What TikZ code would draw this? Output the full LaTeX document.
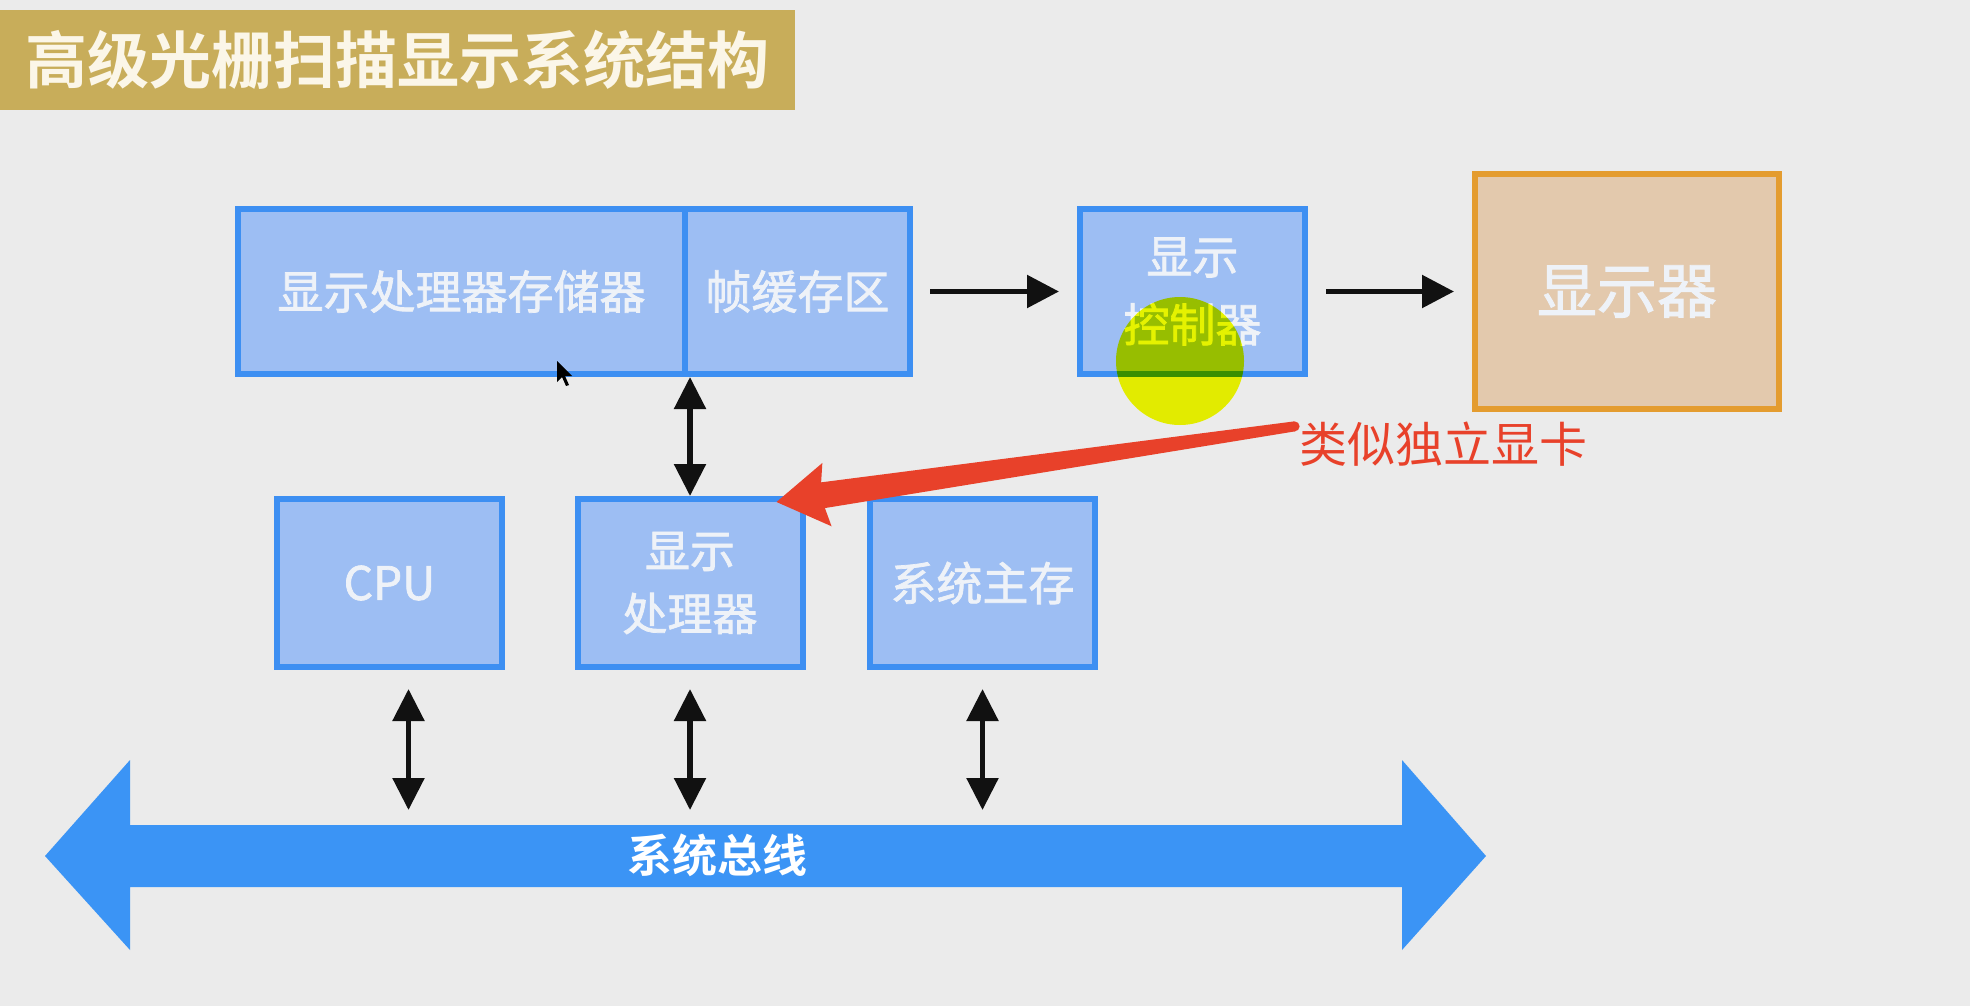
\documentclass[tikz,border=0pt]{standalone}
\usepackage{fontspec}
\usepackage{xcolor}
\usepackage{tikz}
\usetikzlibrary{arrows.meta,positioning,calc}

\newfontfamily\cjk{Noto Sans CJK SC}[BoldFont={Noto Sans CJK SC Bold}]
\newfontfamily\cjkmid{Noto Sans CJK SC}[FakeBold=1.6]

\definecolor{bg}{HTML}{EBEBEB}
\definecolor{banner}{HTML}{C8AD5A}
\definecolor{titletext}{HTML}{FBF6E8}
\definecolor{boxfill}{HTML}{9DBEF3}
\definecolor{boxline}{HTML}{3D8FF2}
\definecolor{boxtext}{HTML}{EEF2F8}
\definecolor{monfill}{HTML}{E3C9AD}
\definecolor{monline}{HTML}{E49C2F}
\definecolor{busblue}{HTML}{3B94F5}
\definecolor{notered}{HTML}{E8412A}
\definecolor{hlyellow}{HTML}{F6FF00}
\definecolor{arrowblack}{HTML}{111111}

\begin{document}
\begin{tikzpicture}[x=0.5pt, y=-0.5pt,
  box/.style={rectangle, draw=boxline, fill=boxfill, line width=3pt, inner sep=0pt, minimum height=82.5pt, align=center, text=boxtext, font=\cjkmid\fontsize{23}{34}\selectfont},
  unitbox/.style={box, minimum width=112.5pt, minimum height=84pt},
  link/.style={{Triangle[length=16pt,width=15.5pt]}-{Triangle[length=16pt,width=15.5pt]}, line width=2.75pt, draw=arrowblack},
  flow/.style={-{Triangle[length=16pt,width=16pt]}, line width=2.75pt, draw=arrowblack}]

  % Background and title banner
  \fill[bg] (0,0) rectangle (1970,1006);
  \node[fill=banner, minimum width=397.5pt, minimum height=50pt, inner sep=0pt, text=titletext, font=\cjk\bfseries\fontsize{31}{36}\selectfont] (title) at (397.5,60) {高级光栅扫描显示系统结构};

  % Top row: memory, frame buffer, controller, monitor
  \node[box, minimum width=223.5pt] (dpmem) at (461.5,291.5) {显示处理器存储器};
  \node[box, minimum width=112.5pt] (fbuf) at (797.5,291.5) {帧缓存区};
  \node[box, minimum width=112.5pt] (dctrl) at (1192.5,291.5) {显示\\控制器};
  \node[box, draw=monline, fill=monfill, minimum width=152pt, minimum height=117.5pt, font=\cjkmid\fontsize{30}{36}\selectfont] (monitor) at (1627,291.5) {\raisebox{-2pt}{显示器}};

  % Bottom row: CPU, display processor, main memory
  \node[unitbox] (cpu) at (389.5,583) {CPU};
  \node[unitbox, font=\cjkmid\fontsize{22.5}{31.5}\selectfont] (dproc) at (690,583) {显示\\处理器};
  \node[unitbox] (mem) at (982.5,583) {系统主存};

  % System bus
  \fill[busblue] (45,856) -- (130,760) -- (130,825) -- (1402,825) -- (1402,760) -- (1486,856)
    -- (1402,950) -- (1402,887) -- (130,887) -- (130,950) -- cycle;
  \node[text=white, font=\cjk\bfseries\fontsize{22.5}{27}\selectfont] (bus) at (717,855) {系统总线};
  \coordinate (bustop) at (717,825);

  % Arrows
  \draw[flow, shorten <=8.5pt, shorten >=9pt] (fbuf) -- (dctrl);
  \draw[flow, shorten <=9pt, shorten >=9pt] (dctrl) -- (monitor);
  \draw[link] (dproc.north |- fbuf.south) -- (dproc.north);
  \foreach \blk/\dx in {cpu/9.5pt, dproc/0pt, mem/0pt} {
    \coordinate (\blk-port) at ([xshift=\dx]\blk.south);
    \draw[link, shorten <=9.5pt, shorten >=7.5pt] (\blk-port) -- (\blk-port |- bustop);
  }

  % Pointer highlight and cursor
  \begin{scope}[blend mode=multiply]
    \fill[hlyellow] (1180,361) circle (32pt);
  \end{scope}
  \fill[black] (557,361) -- (557,382) -- (562,377) -- (566,386) -- (569,385) -- (565,376) -- (572,376) -- cycle;

  % Annotation
  \node[inner sep=0pt, text=notered, font=\cjk\fontsize{24}{28}\selectfont] (note) at (1443,444) {类似独立显卡};
  \coordinate (tip) at ([shift={(-29,6)}]dproc.north east);
  \coordinate (tail) at ([shift={(-4,5)}]note.north west);
  \coordinate (hb) at ($(tip)!25.5pt!(tail)$);
  \coordinate (sb) at ($(tip)!23.5pt!(tail)$);
  \fill[notered] (tip) -- ($(hb)!16pt!-90:(tail)$) -- ($(sb)!6.5pt!-90:(tail)$)
    -- ($(tail)!2.5pt!90:(tip)$) -- ($(tail)!2.5pt!-90:(tip)$)
    -- ($(sb)!6.5pt!90:(tail)$) -- ($(hb)!16pt!90:(tail)$) -- cycle;
  \fill[notered] (tail) circle (2.5pt);

\end{tikzpicture}
\end{document}
